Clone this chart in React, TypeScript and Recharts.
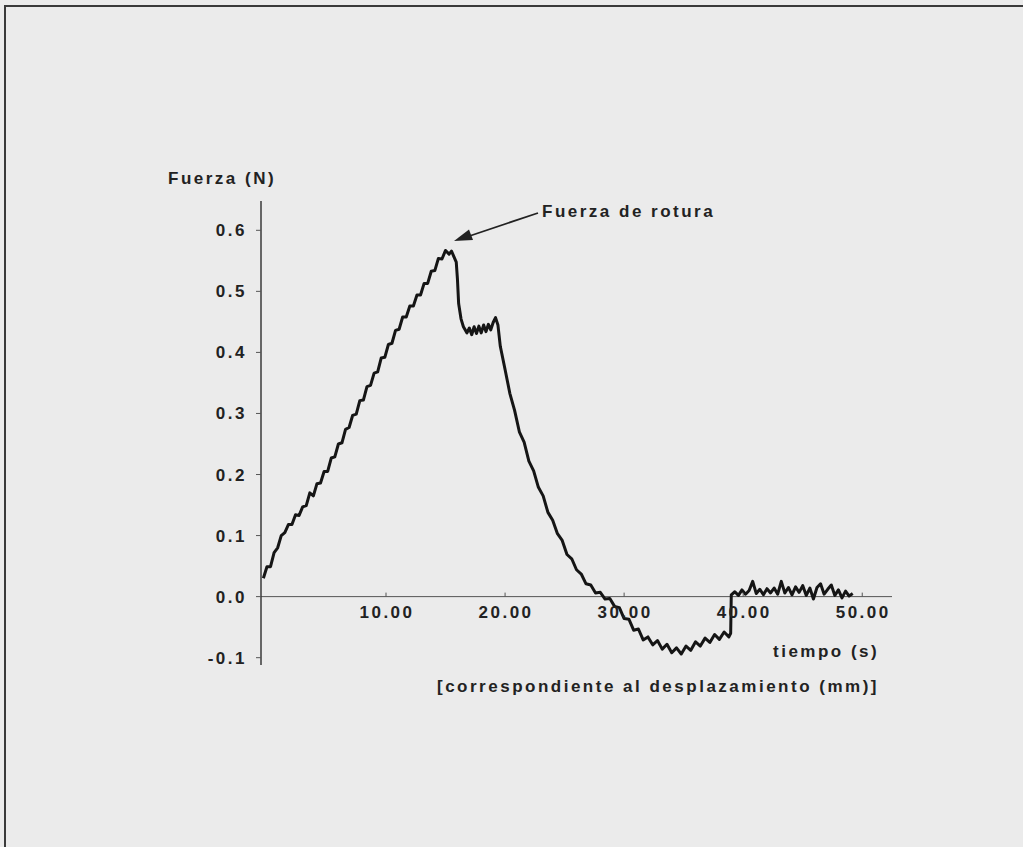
import React from 'react';
import { LineChart, Line, XAxis, YAxis, ReferenceLine, ReferenceDot } from 'recharts';

// tiempo (s)
const tiempo: number[] = [
  -0.3, 0.0, 0.3, 0.6, 0.9, 1.2, 1.5, 1.8, 2.1, 2.4, 2.7, 3.0, 3.3, 3.6, 3.9, 4.2, 4.5, 4.8, 5.1, 5.4,
  5.7, 6.0, 6.3, 6.6, 6.9, 7.2, 7.5, 7.8, 8.1, 8.4, 8.7, 9.0, 9.3, 9.6, 9.9, 10.2, 10.5, 10.8, 11.1, 11.4,
  11.7, 12.0, 12.3, 12.6, 12.9, 13.2, 13.5, 13.8, 14.1, 14.4, 14.7, 15.0,
  15.3, 15.5, 15.7, 15.9, 16.0, 16.1, 16.3, 16.5, 16.8, 17.0, 17.2, 17.4, 17.6, 17.8, 18.0, 18.2, 18.4, 18.6,
  18.8, 19.0, 19.2, 19.4, 19.6,
  20.0, 20.4, 20.8, 21.2, 21.6, 22.0, 22.4, 22.8, 23.2, 23.6, 24.0, 24.4, 24.8, 25.2, 25.6, 26.0, 26.4, 26.8,
  27.2, 27.6, 28.0, 28.4, 28.8, 29.2, 29.6, 30.0, 30.4, 30.8, 31.2, 31.6, 32.0, 32.4, 32.8, 33.2, 33.6, 34.0,
  34.4, 34.8, 35.2, 35.6, 36.0, 36.4, 36.8, 37.2, 37.6, 38.0, 38.4, 38.8, 38.95, 39.0,
  39.3, 39.6, 39.9, 40.2, 40.5, 40.8, 41.1, 41.4, 41.7, 42.0, 42.3, 42.6, 42.9, 43.2, 43.5, 43.8, 44.1, 44.4,
  44.7, 45.0, 45.3, 45.6, 45.9, 46.2, 46.5, 46.8, 47.1, 47.4, 47.7, 48.0, 48.3, 48.6, 48.9, 49.2,
];

// Fuerza (N)
const fuerza: number[] = [
  0.030, 0.049, 0.049, 0.072, 0.080, 0.100, 0.105, 0.118, 0.118, 0.134, 0.133, 0.147, 0.149, 0.170, 0.165, 0.185, 0.186, 0.205, 0.205, 0.227,
  0.229, 0.250, 0.252, 0.274, 0.277, 0.297, 0.299, 0.321, 0.322, 0.344, 0.346, 0.366, 0.368, 0.391, 0.392, 0.413, 0.415, 0.436, 0.438, 0.458,
  0.458, 0.476, 0.476, 0.494, 0.494, 0.513, 0.513, 0.533, 0.534, 0.554, 0.553, 0.567,
  0.561, 0.566, 0.557, 0.548, 0.520, 0.480, 0.455, 0.442, 0.432, 0.440, 0.429, 0.442, 0.431, 0.443, 0.432, 0.445, 0.434, 0.446,
  0.437, 0.449, 0.457, 0.445, 0.410,
  0.372, 0.333, 0.305, 0.270, 0.253, 0.222, 0.206, 0.179, 0.165, 0.138, 0.125, 0.103, 0.092, 0.069, 0.062, 0.044, 0.037, 0.021,
  0.019, 0.006, 0.007, -0.004, -0.003, -0.016, -0.018, -0.036, -0.037, -0.055, -0.053, -0.071, -0.066, -0.079, -0.072, -0.086, -0.078, -0.092,
  -0.084, -0.094, -0.081, -0.088, -0.074, -0.081, -0.068, -0.075, -0.062, -0.070, -0.058, -0.066, -0.060, 0.003,
  0.008, 0.002, 0.011, 0.004, 0.010, 0.025, 0.005, 0.012, 0.003, 0.013, 0.006, 0.014, 0.004, 0.025, 0.006, 0.015, 0.003, 0.016,
  0.007, 0.018, 0.002, 0.014, -0.004, 0.015, 0.021, 0.004, 0.012, 0.019, 0.002, 0.011, -0.002, 0.009, 0.001, 0.005,
];

const yTicks: number[] = [-0.1, 0.0, 0.1, 0.2, 0.3, 0.4, 0.5, 0.6];
const xTicks: number[] = [10, 20, 30, 40, 50];
const xTickLabels: string[] = ['10.00', '20.00', '30.00', '40.00', '50.00'];

const data = tiempo.map((t, i) => ({ t, f: fuerza[i] }));

const FONT = '"Liberation Sans", Arial, sans-serif';

const makeXTick = (label: string) => (props: any) => (
  <g>
    <line x1={props.cx} y1={props.cy} x2={props.cx} y2={props.cy - 4} stroke="#555" strokeWidth={1} />
    <text
      x={props.cx + 1}
      y={props.cy + 21}
      textAnchor="middle"
      fontFamily={FONT}
      fontSize={17}
      fontWeight="bold"
      letterSpacing={2.5}
      fill="#222"
    >
      {label}
    </text>
  </g>
);

export default function App() {
  return (
    <div
      style={{
        position: 'absolute',
        left: 0,
        top: 0,
        width: 1023,
        height: 847,
        background: '#ebebeb',
        overflow: 'hidden',
      }}
    >
      <div
        style={{
          position: 'absolute',
          left: 4,
          top: 5,
          width: 1030,
          height: 860,
          borderTop: '2px solid #3a3a3a',
          borderLeft: '2px solid #3a3a3a',
        }}
      />
      <div style={{ position: 'absolute', left: 0, top: 0 }}>
        <LineChart width={1023} height={847} data={data} margin={{ top: 201, right: 131, bottom: 182, left: 0 }}>
          <XAxis type="number" dataKey="t" domain={[-0.5, 52.5]} hide />
          <YAxis
            type="number"
            domain={[-0.112, 0.648]}
            ticks={yTicks}
            width={261}
            tickFormatter={(v: number) => v.toFixed(1)}
            axisLine={{ stroke: '#3a3a3a', strokeWidth: 1.5 }}
            tickLine={{ stroke: '#555', strokeWidth: 1 }}
            tickSize={5}
            tickMargin={9}
            tick={{ fontSize: 17, fontWeight: 'bold', fill: '#222', fontFamily: FONT, letterSpacing: 2.5 }}
            allowDataOverflow
          />
          <ReferenceLine y={0} stroke="#555" strokeWidth={1} ifOverflow="visible" />
          {xTicks.map((x, i) => (
            <ReferenceDot
              key={x}
              x={x}
              y={0}
              r={0}
              ifOverflow="visible"
              shape={makeXTick(xTickLabels[i])}
            />
          ))}
          <Line
            type="linear"
            dataKey="f"
            stroke="#151515"
            strokeWidth={3}
            strokeLinejoin="round"
            dot={false}
            isAnimationActive={false}
          />
        </LineChart>
      </div>
      <svg
        width={1023}
        height={847}
        style={{ position: 'absolute', left: 0, top: 0, pointerEvents: 'none' }}
      >
        <g fontFamily={FONT} fontSize={17} fontWeight="bold" fill="#222" letterSpacing={2.5}>
          <text x={168} y={184}>Fuerza (N)</text>
          <text x={542} y={217}>Fuerza de rotura</text>
          <text x={773} y={657}>tiempo (s)</text>
          <text x={437} y={692}>[correspondiente al desplazamiento (mm)]</text>
        </g>
        <line x1={538} y1={213} x2={468} y2={236.5} stroke="#222" strokeWidth={1.8} />
        <polygon points="454,241 473,240 469,229.5" fill="#222" />
      </svg>
    </div>
  );
}
